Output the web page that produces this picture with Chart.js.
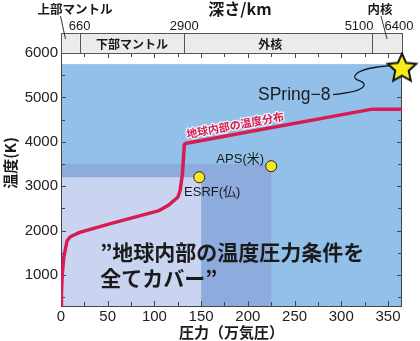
<!DOCTYPE html>
<html>
<head>
<meta charset="utf-8">
<script src="https://cdn.jsdelivr.net/npm/chart.js@4"></script>
<style>
  html, body { margin: 0; background: #fff; }
  #wrap { width: 420px; height: 341px; position: relative; }
</style>
</head>
<body>
<div id="wrap"><canvas id="chart"></canvas></div>
<script>
const JP = '"Noto Sans CJK JP"';
const SANS = '"Liberation Sans", "Noto Sans CJK JP"';

// 地球内部の温度分布 (圧力: 万気圧, 温度: K)
const profilePressure = [0, 0.5, 1.4, 3, 6.5, 10, 14, 20, 52, 105, 115, 125, 127.5, 130, 132, 133, 333, 365];
const profileTemp = [300, 600, 1030, 1400, 1770, 1860, 1900, 1960, 2150, 2450, 2570, 2750, 2900, 3280, 3930, 3960, 4735, 4735];

// 放射光施設
const facilityNames = ['ESRF(仏)', 'APS(米)', 'SPring-8'];
const facilityPressure = [148, 225, 365];
const facilityTemp = [3200, 3450, 5650];
// 各施設で到達できる圧力・温度の範囲
const coverPressure = [150, 225, 365];
const coverTemp = [3200, 3500, 5750];

// 上の深さ帯
const layerNames = ['上部マントル', '下部マントル', '外核', '内核'];
const depthLabels = ['660', '2900', '5100', '6400'];
const boundaryPressure = [0, 20, 132, 333, 365];

const xTickValues = [0, 50, 100, 150, 200, 250, 300, 350];
const yTickValues = [1000, 2000, 3000, 4000, 5000, 6000];

const coverColors = ['rgb(201,212,240)', 'rgb(141,171,221)', 'rgb(146,192,233)'];
const lineRed = '#d81b50';

function starImage(r) {
  const s = Math.ceil(r * 2 + 4);
  const c = document.createElement('canvas');
  c.width = s; c.height = s;
  const g = c.getContext('2d');
  g.beginPath();
  for (let i = 0; i < 10; i++) {
    const rr = i % 2 ? r * 0.47 : r;
    const a = -Math.PI / 2 + i * Math.PI / 5;
    g.lineTo(s / 2 + rr * Math.cos(a), s / 2 + rr * Math.sin(a));
  }
  g.closePath();
  g.fillStyle = '#f9ea1a';
  g.fill();
  g.lineWidth = 2;
  g.strokeStyle = '#111';
  g.stroke();
  return c;
}

const backdrop = {
  id: 'backdrop',
  beforeDatasetsDraw(chart) {
    const { ctx, chartArea: a, scales: { x, y } } = chart;
    ctx.save();

    // 施設ごとの範囲 (大きい方から)
    for (let i = coverPressure.length - 1; i >= 0; i--) {
      const x0 = x.getPixelForValue(0), x1 = x.getPixelForValue(coverPressure[i]);
      const y0 = a.bottom, y1 = y.getPixelForValue(coverTemp[i]);
      ctx.fillStyle = coverColors[i];
      ctx.fillRect(x0, y1, x1 - x0, y0 - y1);
    }

    // 枠と内向きの目盛り
    ctx.strokeStyle = '#444';
    ctx.lineWidth = 1;
    ctx.strokeRect(a.left + 0.5, a.top + 0.5, a.right - a.left - 1, a.bottom - a.top);
    ctx.beginPath();
    for (let v = 500; v < 6000; v += 500) {
      const py = Math.round(y.getPixelForValue(v)) + 0.5;
      const len = v % 1000 === 0 ? 5 : 4;
      ctx.moveTo(a.left, py); ctx.lineTo(a.left + len, py);
      ctx.moveTo(a.right, py); ctx.lineTo(a.right - len, py);
    }
    for (let v = 25; v < 365; v += 25) {
      const px = Math.round(x.getPixelForValue(v)) + 0.5;
      const len = v % 50 === 0 ? 5 : 4;
      ctx.moveTo(px, a.bottom); ctx.lineTo(px, a.bottom - len);
      ctx.moveTo(px, a.top); ctx.lineTo(px, a.top + len);
    }
    ctx.stroke();

    // 深さの帯
    const bandTop = a.top - 20;
    ctx.fillStyle = '#ebebeb';
    ctx.strokeStyle = '#555';
    for (let i = 0; i < layerNames.length; i++) {
      const x0 = x.getPixelForValue(boundaryPressure[i]);
      const x1 = x.getPixelForValue(boundaryPressure[i + 1]);
      ctx.fillRect(x0, bandTop, x1 - x0, 20);
      ctx.strokeRect(Math.round(x0) + 0.5, bandTop + 0.5, Math.round(x1) - Math.round(x0), 20);
    }
    ctx.fillStyle = '#1a1a1a';
    ctx.textBaseline = 'middle';
    ctx.textAlign = 'center';
    ctx.font = `bold 12px ${JP}`;
    ctx.fillText(layerNames[1], (x.getPixelForValue(boundaryPressure[1]) + x.getPixelForValue(boundaryPressure[2])) / 2, bandTop + 11);
    ctx.fillText(layerNames[2], x.getPixelForValue(224), bandTop + 11);
    ctx.font = `bold 12.5px ${JP}`;
    ctx.fillText(layerNames[0], 75, 9.5);
    ctx.fillText(layerNames[3], 380, 9.5);
    ctx.font = `bold 16px ${JP}`;
    ctx.fillText('深さ/km', 240, 9);

    ctx.font = `13px ${SANS}`;
    depthLabels.forEach((t, i) => {
      let px = x.getPixelForValue(boundaryPressure[i + 1]);
      if (i === 2) px -= 13;
      if (i === 3) px -= 3;
      ctx.fillText(t, px, 26);
    });
    ctx.beginPath();
    ctx.strokeStyle = '#333';
    ctx.moveTo(60.5, 16); ctx.lineTo(65.5, 39);
    ctx.moveTo(381, 16); ctx.lineTo(387, 39);
    ctx.stroke();

    // 縦軸タイトル
    ctx.save();
    ctx.translate(10, 163);
    ctx.rotate(-Math.PI / 2);
    ctx.font = `bold 15px ${JP}`;
    ctx.fillText('温度(K)', 0, 0);
    ctx.restore();

    // 大きな見出し
    ctx.font = `bold 21px ${JP}`;
    ctx.textAlign = 'left';
    const tx = x.getPixelForValue(42);
    ctx.fillText('”地球内部の温度圧力条件を', tx, y.getPixelForValue(1505));
    ctx.fillText('全てカバー”', tx, y.getPixelForValue(940));

    // SPring-8 の引き出し線
    const sx = x.getPixelForValue(facilityPressure[2]);
    const sy = y.getPixelForValue(facilityTemp[2]);
    ctx.beginPath();
    ctx.strokeStyle = '#111';
    ctx.lineWidth = 1.2;
    ctx.moveTo(sx - 69, sy + 26);
    ctx.bezierCurveTo(sx - 58, sy + 25, sx - 40, sy + 23, sx - 38, sy + 17);
    ctx.bezierCurveTo(sx - 36, sy + 11, sx - 50, sy + 13, sx - 47, sy + 7);
    ctx.bezierCurveTo(sx - 44, sy + 1, sx - 25, sy - 2, sx - 12, sy - 3);
    ctx.stroke();
    ctx.restore();
  },
  afterDatasetsDraw(chart) {
    const { ctx, scales: { x, y } } = chart;
    ctx.save();
    ctx.fillStyle = '#1a1a1a';
    ctx.textBaseline = 'middle';
    ctx.textAlign = 'center';
    ctx.font = `13px ${SANS}`;
    const e = [x.getPixelForValue(facilityPressure[0]), y.getPixelForValue(facilityTemp[0])];
    ctx.fillText(facilityNames[0], e[0] + 13, e[1] + 15);
    const p = [x.getPixelForValue(facilityPressure[1]), y.getPixelForValue(facilityTemp[1])];
    ctx.fillText(facilityNames[1], p[0] - 31, p[1] - 7);
    const s = [x.getPixelForValue(facilityPressure[2]), y.getPixelForValue(facilityTemp[2])];
    ctx.textAlign = 'left';
    ctx.textBaseline = 'alphabetic';
    ctx.font = `17.5px ${SANS}`;
    ctx.fillText('SPring−8', s[0] - 144, s[1] + 31);

    // 温度分布の線に沿ったラベル
    const lx = x.getPixelForValue(134), ly = y.getPixelForValue(3960);
    ctx.translate(lx, ly - 5);
    ctx.rotate(-10.5 * Math.PI / 180);
    ctx.font = `bold 11px ${JP}`;
    ctx.lineWidth = 2.5;
    ctx.strokeStyle = 'rgba(255,255,255,0.85)';
    ctx.lineJoin = 'round';
    ctx.strokeText('地球内部の温度分布', 1, 0);
    ctx.fillStyle = lineRed;
    ctx.fillText('地球内部の温度分布', 1, 0);
    ctx.restore();
  }
};

new Chart(document.getElementById('chart'), {
  type: 'line',
  data: {
    datasets: [
      {
        label: '地球内部の温度分布',
        data: profilePressure.map((p, i) => ({ x: p, y: profileTemp[i] })),
        borderColor: lineRed,
        borderWidth: 3.5,
        pointRadius: 0,
        tension: 0,
        borderJoinStyle: 'round'
      },
      {
        type: 'scatter',
        label: '施設',
        data: facilityPressure.slice(0, 2).map((p, i) => ({ x: p, y: facilityTemp[i] })),
        backgroundColor: '#f7e81c',
        borderColor: '#222',
        borderWidth: 1,
        pointRadius: 5.5
      },
      {
        type: 'scatter',
        label: 'SPring-8',
        data: [{ x: facilityPressure[2], y: facilityTemp[2] }],
        pointStyle: starImage(15),
        pointRadius: 15,
        clip: false
      }
    ]
  },
  options: {
    responsive: true,
    maintainAspectRatio: false,
    animation: false,
    layout: { padding: { top: 53, right: 18, left: 0, bottom: 0 } },
    plugins: { legend: { display: false }, tooltip: { enabled: false } },
    scales: {
      x: {
        type: 'linear',
        min: 0,
        max: 365,
        afterBuildTicks: s => { s.ticks = xTickValues.map(v => ({ value: v })); },
        afterFit: s => { s.height = 35; },
        grid: { display: false, drawTicks: false },
        border: { display: false },
        ticks: { color: '#222', font: { family: SANS, size: 15 }, padding: 2, maxRotation: 0, callback: v => String(v) },
        title: {
          display: true,
          text: '圧力（万気圧）',
          color: '#1a1a1a',
          font: { family: JP, size: 15, weight: 'bold' },
          padding: { top: 0, bottom: 0 }
        }
      },
      y: {
        min: 300,
        max: 6000,
        afterBuildTicks: s => { s.ticks = yTickValues.map(v => ({ value: v })); },
        afterFit: s => { s.width = 61; },
        grid: { display: false, drawTicks: false },
        border: { display: false },
        ticks: { color: '#222', font: { family: SANS, size: 15 }, padding: 3, callback: v => String(v) }
      }
    }
  },
  plugins: [backdrop]
});
</script>
</body>
</html>
